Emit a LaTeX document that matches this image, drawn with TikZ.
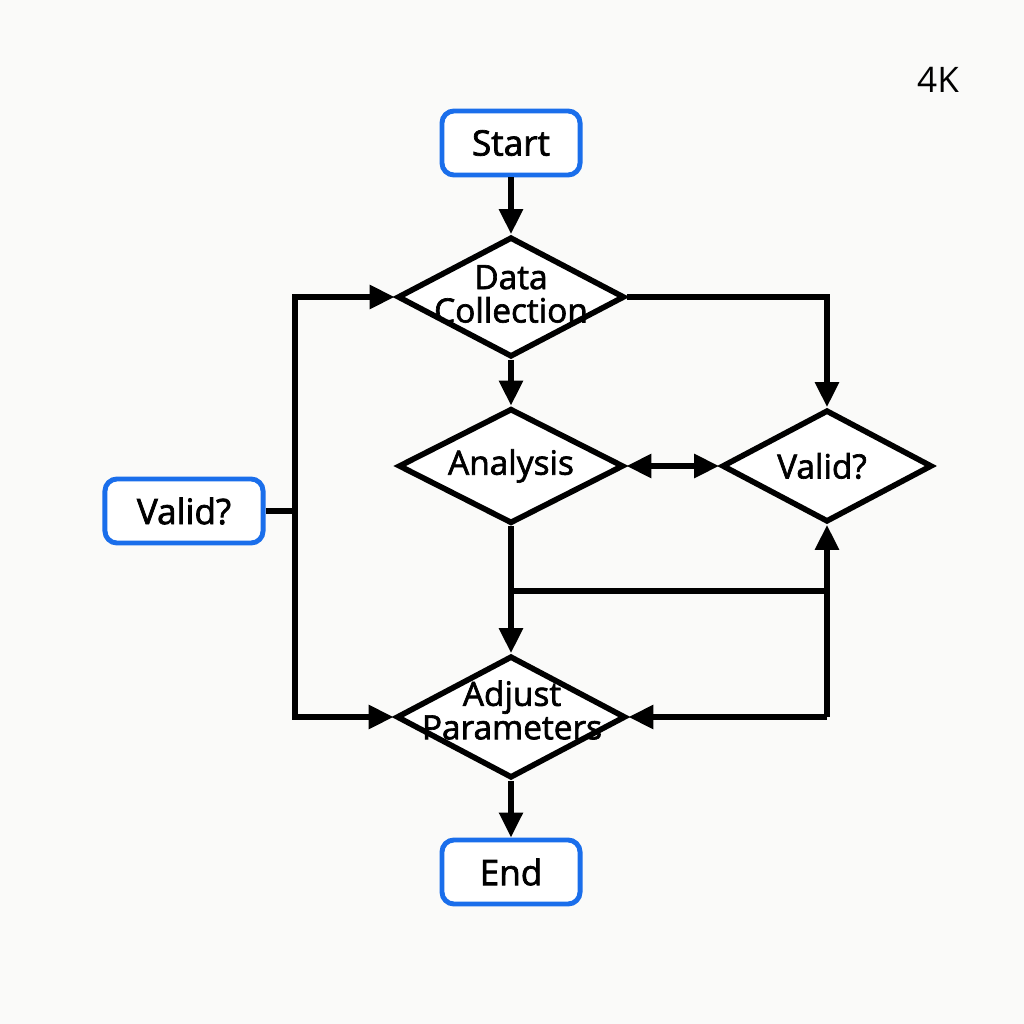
\documentclass[tikz,border=0pt]{standalone}
\usepackage{fontspec}
\setmainfont{Open Sans}[FakeBold=2]
\newfontfamily\plainfont{Open Sans}
\usetikzlibrary{shapes.geometric,arrows.meta}
\definecolor{myblue}{RGB}{26,110,235}
\definecolor{bg}{RGB}{250,250,249}
\begin{document}
\begin{tikzpicture}[x=0.01cm,y=-0.01cm,
  term/.style={draw=myblue, line width=1.4pt, rounded corners=0.12cm, fill=white,
    minimum width=1.38cm, minimum height=0.64cm, inner sep=0pt, font=\fontsize{10}{11}\selectfont},
  dia/.style={diamond, draw=black, line width=1.6pt, inner sep=0pt, fill=white},
  dtext/.style={align=center, inner sep=0pt, font=\fontsize{9.5}{9.5}\selectfont},
  conn/.style={line width=1.6pt, line join=miter},
  arr/.style={conn, -{Triangle[length=0.25cm,width=0.23cm]}},
  darr/.style={conn, {Triangle[length=0.25cm,width=0.23cm]}-{Triangle[length=0.25cm,width=0.23cm]}}]
\fill[bg] (0,0) rectangle (1024,1024);
\useasboundingbox (0,0) rectangle (1024,1024);

\node[term] (start) at (511,143) {Start};
\node[term] (end) at (511,872) {End};
\node[term, minimum width=1.58cm] (vl) at (184,511) {Valid?};

\node[dia, minimum width=2.27cm, minimum height=1.2cm] (dc) at (511,297) {};
\node[dtext] (dct) at (511,294) {Data\\Collection};
\node[dia, minimum width=2.25cm, minimum height=1.15cm] (an) at (511,466) {};
\node[dtext] (ant) at (511,466) {Analysis};
\node[dia, minimum width=2.1cm, minimum height=1.12cm] (vr) at (827,466) {};
\node[dtext] (vrt) at (822,466) {Valid?};
\node[dia, minimum width=2.29cm, minimum height=1.22cm] (adj) at (511,717) {};
\node[dtext] (adjt) at (512,710) {Adjust\\Parameters};

\node[font=\plainfont\fontsize{10}{11}\selectfont] (fk) at (938,80) {4K};

\coordinate (lm) at (295,511);
\coordinate (ja) at (511,591);
\coordinate (jb) at (827,591);
\coordinate (jc) at (827,717);

\draw[arr] (start) -- (dc);
\draw[arr] (dc) -- (an);
\draw[arr] (dc.east) -| (vr.north);
\draw[darr] (an.east) -- (vr.west);
\draw[arr] (an.south) -- (adj.north);
\draw[conn] (ja) -- (jb);
\draw[arr] (jc) -- (vr.south);
\draw[arr] (jc) -- (adj.east);
\draw[arr] (adj) -- (end);
\draw[conn] (vl.east) -- (lm);
\draw[arr] (lm) |- (dc.west);
\draw[arr] (lm) |- (adj.west);
\end{tikzpicture}
\end{document}
